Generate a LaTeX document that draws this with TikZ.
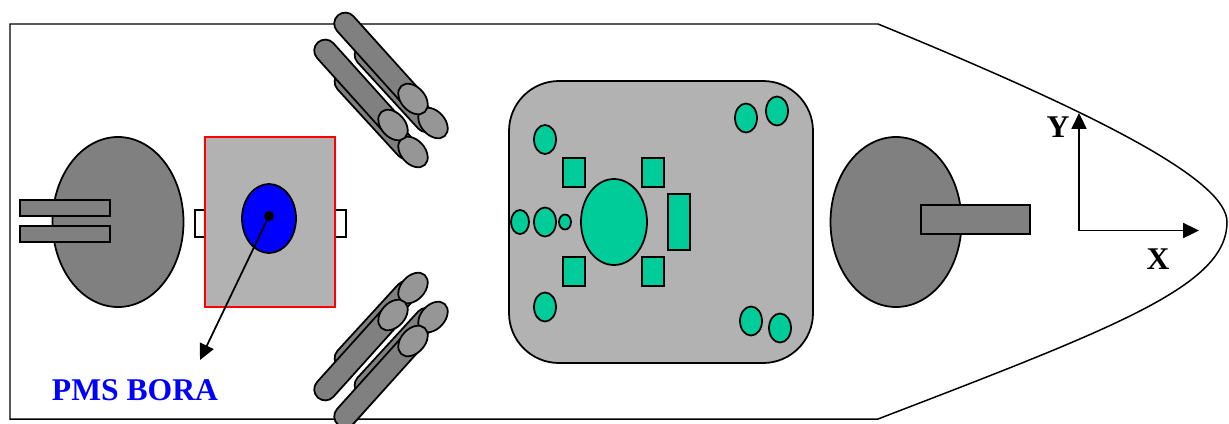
\documentclass[tikz,border=0pt]{standalone}
\usepackage{fontspec}
\setmainfont{Liberation Serif}
\usetikzlibrary{arrows.meta,shapes.geometric,shapes.misc}
\definecolor{gundark}{HTML}{808080}
\definecolor{decklight}{HTML}{B2B2B2}
\definecolor{tubeend}{HTML}{969696}
\definecolor{mastgreen}{HTML}{00CC99}
\tikzset{
    x=0.02cm, y=-0.02cm,
    every node/.style={inner sep=0pt, outer sep=0pt, line width=1pt},
    oval/.style 2 args={draw, ellipse, minimum width=#1*0.02cm, minimum height=#2*0.02cm},
    box/.style 2 args={draw, rectangle, minimum width=#1*0.02cm, minimum height=#2*0.02cm},
    tube/.style 2 args={draw, rounded rectangle, fill=gundark, rotate=#2, minimum width=#1*0.02cm, minimum height=22*0.02cm},
    tubecap/.style={oval={35}{24}, fill=tubeend, rotate=#1},
    turret/.style={oval={131}{170}, fill=gundark},
    barrel/.style 2 args={box={#1}{#2}, fill=gundark},
    mastoval/.style 2 args={oval={#1}{#2}, fill=mastgreen},
    mastbox/.style 2 args={box={#1}{#2}, fill=mastgreen},
    axislabel/.style={font=\fontsize{18}{20}\selectfont\bfseries},
    pointer/.style={-{Triangle[length=9pt,width=8.5pt]}, line width=1pt}
}
\begin{document}
\begin{tikzpicture}[line width=0.85pt]
        \useasboundingbox (0,0) rectangle (1229,423);

        % Hull
        \draw (10,24) -- (878,24) .. controls (1110,119) and (1227,182) .. (1227,222)
            .. controls (1227,285) and (1120,326) .. (878,419) -- (10,419) -- cycle;

        % Aft turret
        \node[turret] (aftturret) at (118,222) {};
        \node[barrel={90}{16}] (aftbarrelA) at (65,208) {};
        \node[barrel={90}{16}] (aftbarrelB) at (65,234) {};

        % Gun deck
        \node[box={11}{27}, fill=white] (lugL) at (200.5,223.5) {};
        \node[box={11}{27}, fill=white] (lugR) at (340.5,223.5) {};
        \node[box={130}{170}, draw=red, fill=decklight] (pmsdeck) at (270,222) {};
        \node[oval={54}{69}, fill=blue] (pmsmount) at (269,218.5) {};
        \node[circle, fill=black, minimum size=10*0.02cm] (pmsdot) at (269,216) {};
        \coordinate (pmsend) at (200,360);
        \node[axislabel, text=blue] (pmslabel) at (135,390) {PMS BORA};

        % Tubes, upper side
        \node[tube={112}{-47.5}] (tubeUa) at (396,88) {};
        \node[tubecap=-48] (capUa) at (433,123) {};
        \node[tube={120}{-48}] (tubeTa) at (378,60) {};
        \node[tubecap=-48] (endTa) at (413,99) {};
        \node[tube={112}{-47.5}] (tubeUb) at (376,115) {};
        \node[tubecap=-48] (capUb) at (413,152) {};
        \node[tube={120}{-48}] (tubeTb) at (358,87) {};
        \node[tubecap=-48] (endTb) at (393,125) {};

        % Tubes, lower side
        \node[tube={112}{47.5}] (tubeVa) at (396,352) {};
        \node[tubecap=48] (capVa) at (433,317) {};
        \node[tube={120}{48}] (tubeWa) at (378,380) {};
        \node[tubecap=48] (endWa) at (413,341) {};
        \node[tube={112}{47.5}] (tubeVb) at (376,325) {};
        \node[tubecap=48] (capVb) at (413,288) {};
        \node[tube={120}{48}] (tubeWb) at (358,353) {};
        \node[tubecap=48] (endWb) at (393,315) {};

        % Superstructure
        \node[box={304}{282}, fill=decklight, rounded corners=1cm] (bridge) at (661,222) {};
        \node[mastoval={66}{86}] (mast) at (614,222) {};
        \node[mastoval={18}{24}] (rowA) at (520,222) {};
        \node[mastoval={22}{29}] (rowB) at (545,222) {};
        \node[mastoval={12}{15}] (rowC) at (565,222) {};
        \node[mastoval={22}{29}] (portA) at (545,139.5) {};
        \node[mastoval={22}{29}] (portB) at (545,307) {};
        \node[mastoval={22}{29}] (cornerA) at (746,118) {};
        \node[mastoval={22}{29}] (cornerB) at (777,111) {};
        \node[mastoval={22}{29}] (cornerC) at (751,321) {};
        \node[mastoval={22}{29}] (cornerD) at (780,328) {};
        \node[mastbox={22}{29}] (boxA) at (574,172.5) {};
        \node[mastbox={22}{29}] (boxB) at (653,172.5) {};
        \node[mastbox={22}{29}] (boxC) at (574,271.5) {};
        \node[mastbox={22}{29}] (boxD) at (653,271.5) {};
        \node[mastbox={22}{56}] (boxE) at (679,222) {};

        % Fore turret
        \node[turret] (foreturret) at (896,222) {};
        \node[barrel={109}{29}] (forebarrel) at (975.5,219.5) {};

        % Axes
        \coordinate (origin) at (1079,230.5);
        \coordinate (yend) at (1079,113);
        \coordinate (xend) at (1199,230.5);
        \node[axislabel] (ylabel) at (1058,127) {Y};
        \node[axislabel] (xlabel) at (1158,259) {X};

        % Arrows
        \draw[pointer] (pmsdot.center) -- (pmsend);
        \draw[pointer] (origin) -- (yend);
        \draw[pointer] (origin) -- (xend);
    \end{tikzpicture}
\end{document}
